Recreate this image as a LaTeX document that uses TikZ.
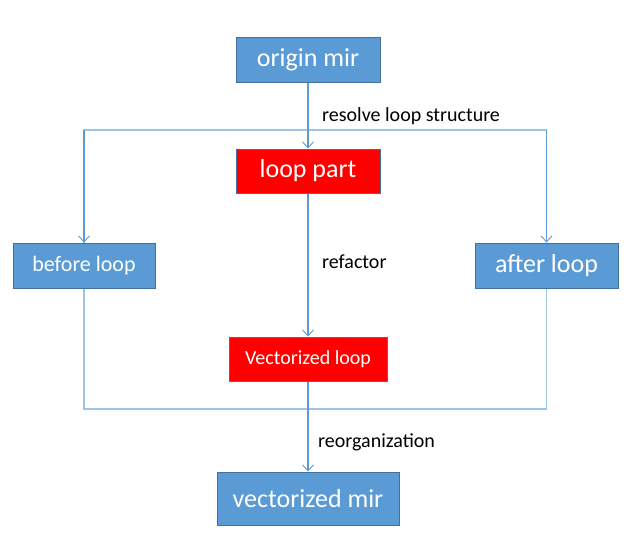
\documentclass[tikz,border=0pt]{standalone}
\usepackage{fontspec}
\setmainfont{Carlito}
\usetikzlibrary{arrows.meta,positioning}
\usepackage{xcolor}
\definecolor{boxblue}{RGB}{91,155,213}
\definecolor{edgeblue}{RGB}{65,113,156}
\definecolor{linkblue}{RGB}{91,155,213}
\definecolor{buslight}{RGB}{157,195,230}
\definecolor{loopred}{RGB}{255,0,0}
\tikzset{
  bluebox/.style = {draw=edgeblue,line width=1pt,fill=boxblue,text=white,
                    inner sep=0pt,align=center},
  redbox/.style  = {bluebox,fill=loopred},
  arrow/.style   = {-{Straight Barb[length=6pt,width=11pt,line width=0.9pt]},
                    line width=1.1pt,color=linkblue},
  bus/.style     = {line width=1.4pt,color=buslight},
  lbl/.style     = {inner sep=0pt,anchor=west,font=\fontsize{20}{24}\selectfont},
}

\begin{document}
\begin{tikzpicture}[x=1pt,y=-1pt]
  \useasboundingbox[fill=white] (0,0) rectangle (644,547);
  % the six boxes
  \node[bluebox,minimum width=144pt,minimum height=45pt,font=\fontsize{26}{30}\selectfont]
    (origin) at (308,59.5) {origin mir};
  \node[redbox,minimum width=144pt,minimum height=44pt,font=\fontsize{26}{30}\selectfont]
    (looppart) at (308,171) {loop part};
  \node[bluebox,minimum width=142pt,minimum height=45pt,font=\fontsize{22}{26}\selectfont]
    (before) at (84,265.5) {before loop};
  \node[bluebox,minimum width=143pt,minimum height=45pt,font=\fontsize{26}{30}\selectfont]
    (after) at (546.5,265.5) {after loop};
  \node[redbox,minimum width=158pt,minimum height=44pt,font=\fontsize{20}{24}\selectfont]
    (vecloop) at (308,359) {Vectorized loop};
  \node[bluebox,minimum width=182pt,minimum height=53pt,font=\fontsize{26}{30}\selectfont]
    (vecmir) at (308,498.5) {vectorized mir};

  % bus points
  \coordinate (topbus) at (308,130);
  \coordinate (botbus) at (308,409);

  \draw[bus] (topbus) -| (before);
  \draw[bus] (topbus) -| (after);
  \draw[arrow] (topbus -| before) -- (before);
  \draw[arrow] (topbus -| after) -- (after);
  \draw[arrow] (origin) -- (looppart);
  \draw[arrow] (looppart) -- (vecloop);
  \draw[bus] (before) |- (botbus);
  \draw[bus] (after) |- (botbus);
  \draw[arrow] (vecloop) -- (vecmir);

  % step labels
  \node[lbl] (resolvelbl) at (322,116) {resolve loop structure};
  \node[lbl] (refactorlbl) at (322,262) {refactor};
  \node[lbl] (reorglbl) at (318,442) {reorganization};
\end{tikzpicture}
\end{document}
